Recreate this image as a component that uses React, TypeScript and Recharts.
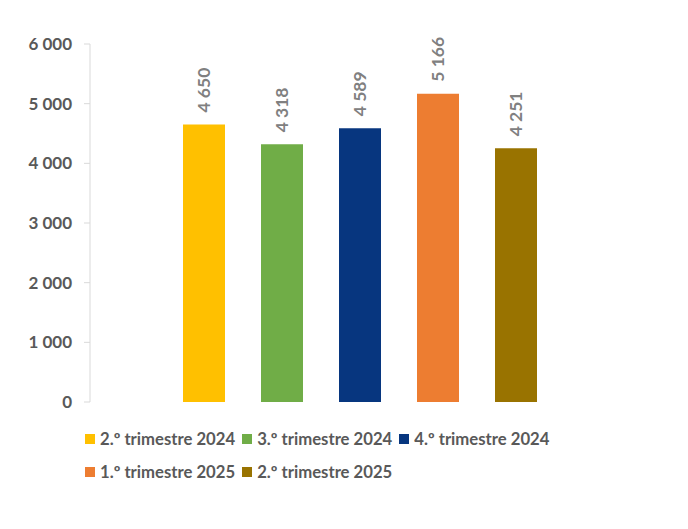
import React from 'react';
import { BarChart, Bar, XAxis, YAxis, Legend, LabelList } from 'recharts';

const categories = ['Total'];
const seriesNames = [
  '2.º trimestre 2024',
  '3.º trimestre 2024',
  '4.º trimestre 2024',
  '1.º trimestre 2025',
  '2.º trimestre 2025',
];
const seriesValues = [4650, 4318, 4589, 5166, 4251];
const seriesColors = ['#FFC000', '#70AD47', '#07367F', '#ED7D31', '#997300'];
const yTicks = [0, 1000, 2000, 3000, 4000, 5000, 6000];

const data = categories.map((c) => {
  const row: Record<string, any> = { category: c };
  seriesNames.forEach((_, i) => {
    row['s' + i] = seriesValues[i];
  });
  return row;
});

const fmt = (v: number) => String(v).replace(/\B(?=(\d{3})+(?!\d))/g, ' ');

const FONT = 'Lato, "Open Sans", sans-serif';

const RotLabel = (props: any) => {
  const { x, y, width, value } = props;
  const cx = x + width / 2;
  const cy = y - 12;
  return (
    <text
      x={cx}
      y={cy}
      transform={`rotate(-90 ${cx} ${cy})`}
      textAnchor="start"
      dominantBaseline="central"
      fill="#808080"
      fontSize={17.5}
      fontWeight={700}
      fontFamily={FONT}
    >
      {fmt(value)}
    </text>
  );
};

const LegendContent = () => (
  <div
    style={{
      height: 86,
      boxSizing: 'border-box',
      paddingTop: 20,
      display: 'flex',
      flexWrap: 'wrap',
      alignContent: 'flex-start',
      fontFamily: FONT,
      fontSize: 16.7,
      fontWeight: 700,
      color: '#595959',
    }}
  >
    {seriesNames.map((n, i) => (
      <div
        key={n}
        style={{ display: 'flex', alignItems: 'center', height: 33, marginRight: 7, whiteSpace: 'nowrap' }}
      >
        <span style={{ display: 'inline-block', width: 10, height: 10, background: seriesColors[i], marginRight: 5 }} />
        <span>{n}</span>
      </div>
    ))}
  </div>
);

export default function App() {
  return (
    <BarChart
      width={672}
      height={513}
      data={data}
      margin={{ top: 36, right: 51, left: 0, bottom: 33 }}
      barGap={36}
      barSize={42}
    >
      <XAxis dataKey="category" hide />
      <YAxis
        width={82}
        domain={[0, 6000]}
        ticks={yTicks}
        interval={0}
        tickFormatter={fmt}
        axisLine={{ stroke: '#D9D9D9' }}
        tickLine={{ stroke: '#D9D9D9' }}
        tickSize={6}
        tickMargin={12}
        tick={{ fill: '#595959', fontSize: 17, fontWeight: 700, fontFamily: FONT }}
      />
      <Legend
        verticalAlign="bottom"
        align="left"
        wrapperStyle={{ left: 77, width: 500 }}
        content={<LegendContent />}
      />
      {seriesNames.map((n, i) => (
        <Bar key={n} dataKey={'s' + i} name={n} fill={seriesColors[i]} isAnimationActive={false}>
          <LabelList dataKey={'s' + i} content={<RotLabel />} />
        </Bar>
      ))}
    </BarChart>
  );
}
